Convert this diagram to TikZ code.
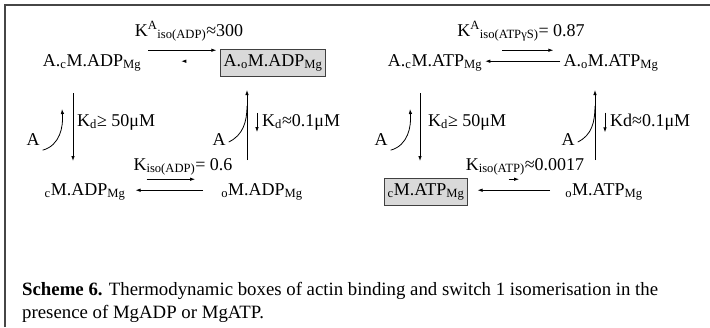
\documentclass[tikz,border=0pt]{standalone}
\usepackage{fontspec}
\setmainfont{Liberation Serif}
\usetikzlibrary{positioning, arrows.meta}
\definecolor{boxgray}{RGB}{217, 217, 217}
\definecolor{framegray}{RGB}{70, 70, 70}

\begin{document}
\begin{tikzpicture}[x=1pt, y=-1pt,
        spec/.style={font=\fontsize{18}{20}\selectfont, inner sep=3pt, anchor=base},
        specbox/.style={spec, draw=black!75, fill=boxgray, inner xsep=3pt, inner ysep=5pt},
        klbl/.style={font=\fontsize{18}{20}\selectfont, inner sep=1pt, anchor=base},
        kdlbl/.style={font=\fontsize{18}{20}\selectfont, inner sep=0pt, anchor=west},
        rxarr/.style={-{Latex[length=5pt, width=3.5pt]}, line width=0.8pt},
        rxline/.style={line width=0.8pt}
    ]
    \useasboundingbox (0,0) rectangle (710,327);

    % === Frame (top and left rules) ===
    \draw[framegray, line width=1.2pt] (5,327) -- (5,5) -- (710,5);

    % === ADP box ===
    \node[spec] (acADP) at (92,66) {A.\textsubscript{c}M.ADP\textsubscript{Mg}};
    \node[specbox] (aoADP) at (273,66) {A.\textsubscript{o}M.ADP\textsubscript{Mg}};
    \node[spec] (cADP) at (85,195) {\textsubscript{c}M.ADP\textsubscript{Mg}};
    \node[spec] (oADP) at (262,195) {\textsubscript{o}M.ADP\textsubscript{Mg}};

    \node[klbl] (kisoAtop) at (189,36) {K\textsuperscript{A}\textsubscript{iso(ADP)}≈300};
    \node[klbl] (kisoAbot) at (183,170) {K\textsubscript{iso(ADP)}= 0.6};

    \draw[rxarr, shorten <=4pt, shorten >=4pt] ([yshift=12.5pt]acADP.east) -- ([yshift=12.5pt]aoADP.west);
    \draw[rxarr, shorten <=35pt, shorten >=37pt] ([yshift=1.5pt]aoADP.west) -- ([yshift=1.5pt]acADP.east);
    \draw[rxarr, shorten <=18pt, shorten >=23pt] ([yshift=12.5pt]cADP.east) -- ([yshift=12.5pt]oADP.west);
    \draw[rxarr, shorten <=15pt, shorten >=7pt] ([yshift=1.5pt]oADP.west) -- ([yshift=1.5pt]cADP.east);

    % left column: A off
    \coordinate (lAt) at (73,93);
    \coordinate (lAb) at (73,161);
    \coordinate (lAc) at (62,109);
    \node[spec, anchor=center] (aLA) at (33,140) {A};
    \node[kdlbl] (kdLA) at (77,122) {K\textsubscript{d}≥ 50μM};
    \draw[rxarr] (lAt) -- (lAb);
    \draw[rxarr] ([yshift=-1pt]aLA.south east) to[out=15, in=-85] (lAc);

    % right column: A on
    \coordinate (rAt) at (247,90);
    \coordinate (rAb) at (247,160);
    \coordinate (rAm) at (247,106);
    \node[spec, anchor=center] (aRA) at (219,140) {A};
    \node[kdlbl] (kdRA) at (262,122) {K\textsubscript{d}≈0.1μM};
    \draw[rxarr] (rAb) -- (rAt);
    \draw[rxline] ([yshift=-2pt]aRA.east) to[out=25, in=-90] (rAm);
    \draw[rxarr] ([xshift=-5pt,yshift=1pt]kdRA.north west) -- ([xshift=-5pt,yshift=-2pt]kdRA.south west);

    % === ATP box ===
    \node[spec] (acATP) at (435,66) {A.\textsubscript{c}M.ATP\textsubscript{Mg}};
    \node[spec] (aoATP) at (611,66) {A.\textsubscript{o}M.ATP\textsubscript{Mg}};
    \node[specbox] (cATP) at (426,195) {\textsubscript{c}M.ATP\textsubscript{Mg}};
    \node[spec] (oATP) at (604,195) {\textsubscript{o}M.ATP\textsubscript{Mg}};

    \node[klbl] (kisoTtop) at (521,36) {K\textsuperscript{A}\textsubscript{iso(ATPγS)}= 0.87};
    \node[klbl] (kisoTbot) at (525,170) {K\textsubscript{iso(ATP)}≈0.0017};

    \draw[rxarr, shorten <=17pt, shorten >=7pt] ([yshift=12.5pt]acATP.east) -- ([yshift=12.5pt]aoATP.west);
    \draw[rxarr] ([yshift=1.5pt]aoATP.west) -- ([yshift=1.5pt]acATP.east);
    \draw[rxarr, shorten <=41pt, shorten >=43pt] ([yshift=12.5pt]cATP.east) -- ([yshift=12.5pt]oATP.west);
    \draw[rxarr, shorten <=12pt, shorten >=10pt] ([yshift=1.5pt]oATP.west) -- ([yshift=1.5pt]cATP.east);

    % left column: A off
    \coordinate (lTt) at (420,93);
    \coordinate (lTb) at (420,161);
    \coordinate (lTc) at (410,109);
    \node[spec, anchor=center] (aLT) at (381,140) {A};
    \node[kdlbl] (kdLT) at (428,122) {K\textsubscript{d}≥ 50μM};
    \draw[rxarr] (lTt) -- (lTb);
    \draw[rxarr] ([yshift=-1pt]aLT.south east) to[out=15, in=-85] (lTc);

    % right column: A on
    \coordinate (rTt) at (595,90);
    \coordinate (rTb) at (595,160);
    \coordinate (rTm) at (595,106);
    \node[spec, anchor=center] (aRT) at (568,140) {A};
    \node[kdlbl] (kdRT) at (610,122) {Kd≈0.1μM};
    \draw[rxarr] (rTb) -- (rTt);
    \draw[rxline] ([yshift=-2pt]aRT.east) to[out=25, in=-90] (rTm);
    \draw[rxarr] ([xshift=-5pt,yshift=1pt]kdRT.north west) -- ([xshift=-5pt,yshift=-2pt]kdRT.south west);

    % === Caption ===
    \node[anchor=base west, inner sep=0pt, font=\fontsize{18.8}{23}\selectfont] (cap1) at (22,295)
        {\textbf{Scheme 6.} Thermodynamic boxes of actin binding and switch 1 isomerisation in the};
    \node[anchor=base west, inner sep=0pt, font=\fontsize{18.8}{23}\selectfont] (cap2) at (22,318)
        {presence of MgADP or MgATP.};

\end{tikzpicture}
\end{document}
